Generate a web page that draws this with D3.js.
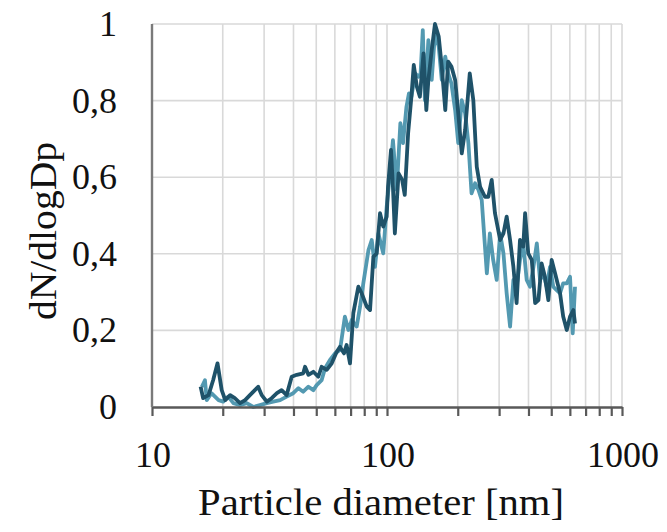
<!DOCTYPE html>
<html>
<head>
<script src="https://cdn.jsdelivr.net/npm/d3@7"></script>
</head>
<body style="margin:0">
<div id="chart"></div>
<script>
// particle size (nm) and normalised dN/dlogDp
var sizeDark = [16.1, 16.5, 17.4, 18.2, 19.0, 19.8, 20.5, 21.5, 22.5, 23.7, 24.9, 26.1, 27.4, 28.3, 29.3, 30.8, 32.3, 34.0, 35.6, 37.4,
  39.3, 41.3, 44.0, 44.8, 46.3, 48.6, 51.0, 52.7, 55.4, 58.2, 61.1, 63.1, 65.6, 67.3, 69.6, 71.9, 75.5, 78.0, 82.0, 84.7,
  87.5, 90.4, 93.4, 96.4, 99.7, 101, 104, 106, 108, 112, 116, 119, 123, 127, 130, 134, 138, 143, 147, 150,
  155, 160, 166, 171, 177, 182, 188, 195, 201, 208, 215, 225, 233, 241, 249, 261, 270, 279, 288, 303,
  313, 323, 334, 345, 356, 368, 380, 387, 399, 413, 427, 441, 455, 470, 486, 502, 519, 545, 562, 582,
  601, 621, 631];
var dnDark = [0.053, 0.023, 0.031, 0.070, 0.114, 0.044, 0.018, 0.031, 0.023, 0.010, 0.018, 0.031, 0.044, 0.053, 0.031, 0.014, 0.023, 0.036, 0.044, 0.031,
  0.079, 0.084, 0.088, 0.105, 0.084, 0.092, 0.079, 0.105, 0.097, 0.114, 0.144, 0.157, 0.140, 0.162, 0.114, 0.245, 0.314, 0.297, 0.262, 0.253,
  0.392, 0.401, 0.506, 0.471, 0.497, 0.575, 0.671, 0.575, 0.453, 0.610, 0.593, 0.554, 0.715, 0.810, 0.893, 0.836, 0.810, 0.923, 0.775, 0.854,
  0.932, 1.000, 0.967, 0.889, 0.775, 0.902, 0.889, 0.854, 0.767, 0.662, 0.723, 0.871, 0.801, 0.627, 0.575, 0.549, 0.549, 0.593, 0.506, 0.436,
  0.453, 0.497, 0.436, 0.366, 0.271, 0.436, 0.419, 0.506, 0.401, 0.384, 0.271, 0.279, 0.375, 0.340, 0.279, 0.384, 0.349, 0.297, 0.236, 0.201,
  0.236, 0.253, 0.218];

var sizeLight = [16.3, 16.8, 17.1, 17.9, 19.2, 20.1, 21.1, 22.2, 23.7, 25.3, 27.0, 28.8, 30.8, 32.8, 35.1, 37.4, 39.9, 42.0, 44.0, 46.3,
  48.6, 50.2, 52.7, 54.5, 57.2, 60.1, 63.1, 66.2, 68.5, 70.8, 74.3, 76.8, 79.3, 83.4, 86.1, 88.9, 91.9, 96.4, 99.7, 103,
  106, 110, 114, 117, 121, 124, 127, 132, 136, 139, 142, 145, 150, 155, 160, 166, 171, 177, 182, 188,
  195, 201, 208, 215, 222, 229, 237, 245, 253, 266, 274, 283, 293, 303, 313, 323, 334, 345, 356, 368,
  380, 393, 406, 420, 434, 448, 463, 478, 494, 510, 527, 545, 562, 582, 601, 617, 631];
var dnLight = [0.053, 0.070, 0.018, 0.036, 0.018, 0.014, 0.027, 0.010, 0.005, 0.010, 0.000, 0.005, 0.010, 0.014, 0.018, 0.027, 0.036, 0.049, 0.040, 0.053,
  0.044, 0.057, 0.070, 0.101, 0.123, 0.140, 0.149, 0.236, 0.201, 0.227, 0.210, 0.262, 0.323, 0.410, 0.436, 0.366, 0.453, 0.401, 0.523, 0.610,
  0.697, 0.567, 0.741, 0.689, 0.784, 0.819, 0.810, 0.871, 0.862, 0.871, 0.984, 0.801, 0.958, 0.854, 0.976, 0.941, 0.854, 0.915, 0.871, 0.845,
  0.775, 0.689, 0.801, 0.767, 0.689, 0.558, 0.584, 0.567, 0.540, 0.349, 0.453, 0.384, 0.332, 0.453, 0.401, 0.297, 0.210, 0.332, 0.314, 0.384,
  0.427, 0.332, 0.314, 0.366, 0.427, 0.332, 0.349, 0.314, 0.366, 0.314, 0.305, 0.297, 0.323, 0.323, 0.340, 0.192, 0.314];

var xGrid = [20, 30, 40, 50, 60, 70, 80, 90, 100, 200, 300, 400, 500, 600, 700, 800, 900, 1000];
var xTicks = [10, 20, 30, 40, 50, 60, 70, 80, 90, 100, 200, 300, 400, 500, 600, 700, 800, 900, 1000];
var xLabels = [10, 100, 1000];
var yTicks = [0, 0.2, 0.4, 0.6, 0.8, 1];

var width = 667,
    height = 532,
    serif = "'Liberation Serif'",
    colorDark = '#1f5269',
    colorLight = '#5399b1';

var x = d3.scaleLog().domain([10, 1000]).range([152, 622]),
    y = d3.scaleLinear().domain([0, 1]).range([407, 24]);

var svg = d3.select('#chart')
  .append('svg')
  .attr('width', width)
  .attr('height', height)
  .style('display', 'block')
  .style('background', '#fff');

// grid
svg.append('g')
  .selectAll('line.grid-x')
  .data(xGrid)
  .enter()
  .append('line')
  .attr('class', 'grid-x')
  .attr('x1', function(d) { return x(d); })
  .attr('x2', function(d) { return x(d); })
  .attr('y1', y(1))
  .attr('y2', y(0))
  .attr('stroke', '#d9d9d9')
  .attr('stroke-width', 1.6);

svg.append('g')
  .selectAll('line.grid-y')
  .data(yTicks.filter(function(d) { return d > 0; }))
  .enter()
  .append('line')
  .attr('class', 'grid-y')
  .attr('x1', x(10))
  .attr('x2', x(1000))
  .attr('y1', function(d) { return y(d); })
  .attr('y2', function(d) { return y(d); })
  .attr('stroke', '#d9d9d9')
  .attr('stroke-width', 1.6);

// series
var line = d3.line()
  .x(function(d) { return x(d[0]); })
  .y(function(d) { return y(d[1]); });

var seriesLight = d3.zip(sizeLight, dnLight),
    seriesDark = d3.zip(sizeDark, dnDark);

svg.append('path')
  .datum(seriesLight)
  .attr('d', line)
  .attr('fill', 'none')
  .attr('stroke', colorLight)
  .attr('stroke-width', 3.8)
  .attr('stroke-linejoin', 'round');

svg.append('path')
  .datum(seriesDark)
  .attr('d', line)
  .attr('fill', 'none')
  .attr('stroke', colorDark)
  .attr('stroke-width', 3.8)
  .attr('stroke-linejoin', 'round');

// axes
var xAxis = svg.append('g')
  .attr('transform', 'translate(0,' + y(0) + ')')
  .call(d3.axisBottom(x).tickValues(xTicks).tickSize(9).tickSizeOuter(0).tickFormat(''));

xAxis.select('.domain').attr('stroke', '#595959').attr('stroke-width', 2.6);
xAxis.selectAll('.tick line').attr('stroke', '#595959').attr('stroke-width', 2.2);

svg.append('line')
  .attr('x1', x(10))
  .attr('x2', x(10))
  .attr('y1', y(1))
  .attr('y2', y(0))
  .attr('stroke', '#7a7a7a')
  .attr('stroke-width', 2.4);

// labels
var labels = svg.append('g');

labels.selectAll('text.x-label')
  .data(xLabels)
  .enter()
  .append('text')
  .attr('class', 'x-label')
  .attr('x', function(d) { return x(d) + 1; })
  .attr('y', 467)
  .attr('text-anchor', 'middle')
  .text(function(d) { return d; });

labels.selectAll('text.y-label')
  .data(yTicks)
  .enter()
  .append('text')
  .attr('class', 'y-label')
  .attr('x', 117)
  .attr('y', function(d) { return y(d) + 12; })
  .attr('text-anchor', 'end')
  .text(function(d) { return String(d).replace('.', ','); });

labels.append('text')
  .attr('class', 'title')
  .attr('x', 381)
  .attr('y', 515)
  .attr('text-anchor', 'middle')
  .attr('textLength', 366)
  .attr('lengthAdjust', 'spacingAndGlyphs')
  .text('Particle diameter [nm]');

labels.append('text')
  .attr('class', 'title')
  .attr('transform', 'translate(56,231) rotate(-90)')
  .attr('text-anchor', 'middle')
  .attr('textLength', 178)
  .attr('lengthAdjust', 'spacingAndGlyphs')
  .text('dN/dlogDp');

labels.selectAll('text')
  .style('font-family', serif)
  .style('fill', '#111');
labels.selectAll('text.x-label, text.y-label').style('font-size', '36px');
labels.selectAll('text.title').style('font-size', '38px');
</script>
</body>
</html>
